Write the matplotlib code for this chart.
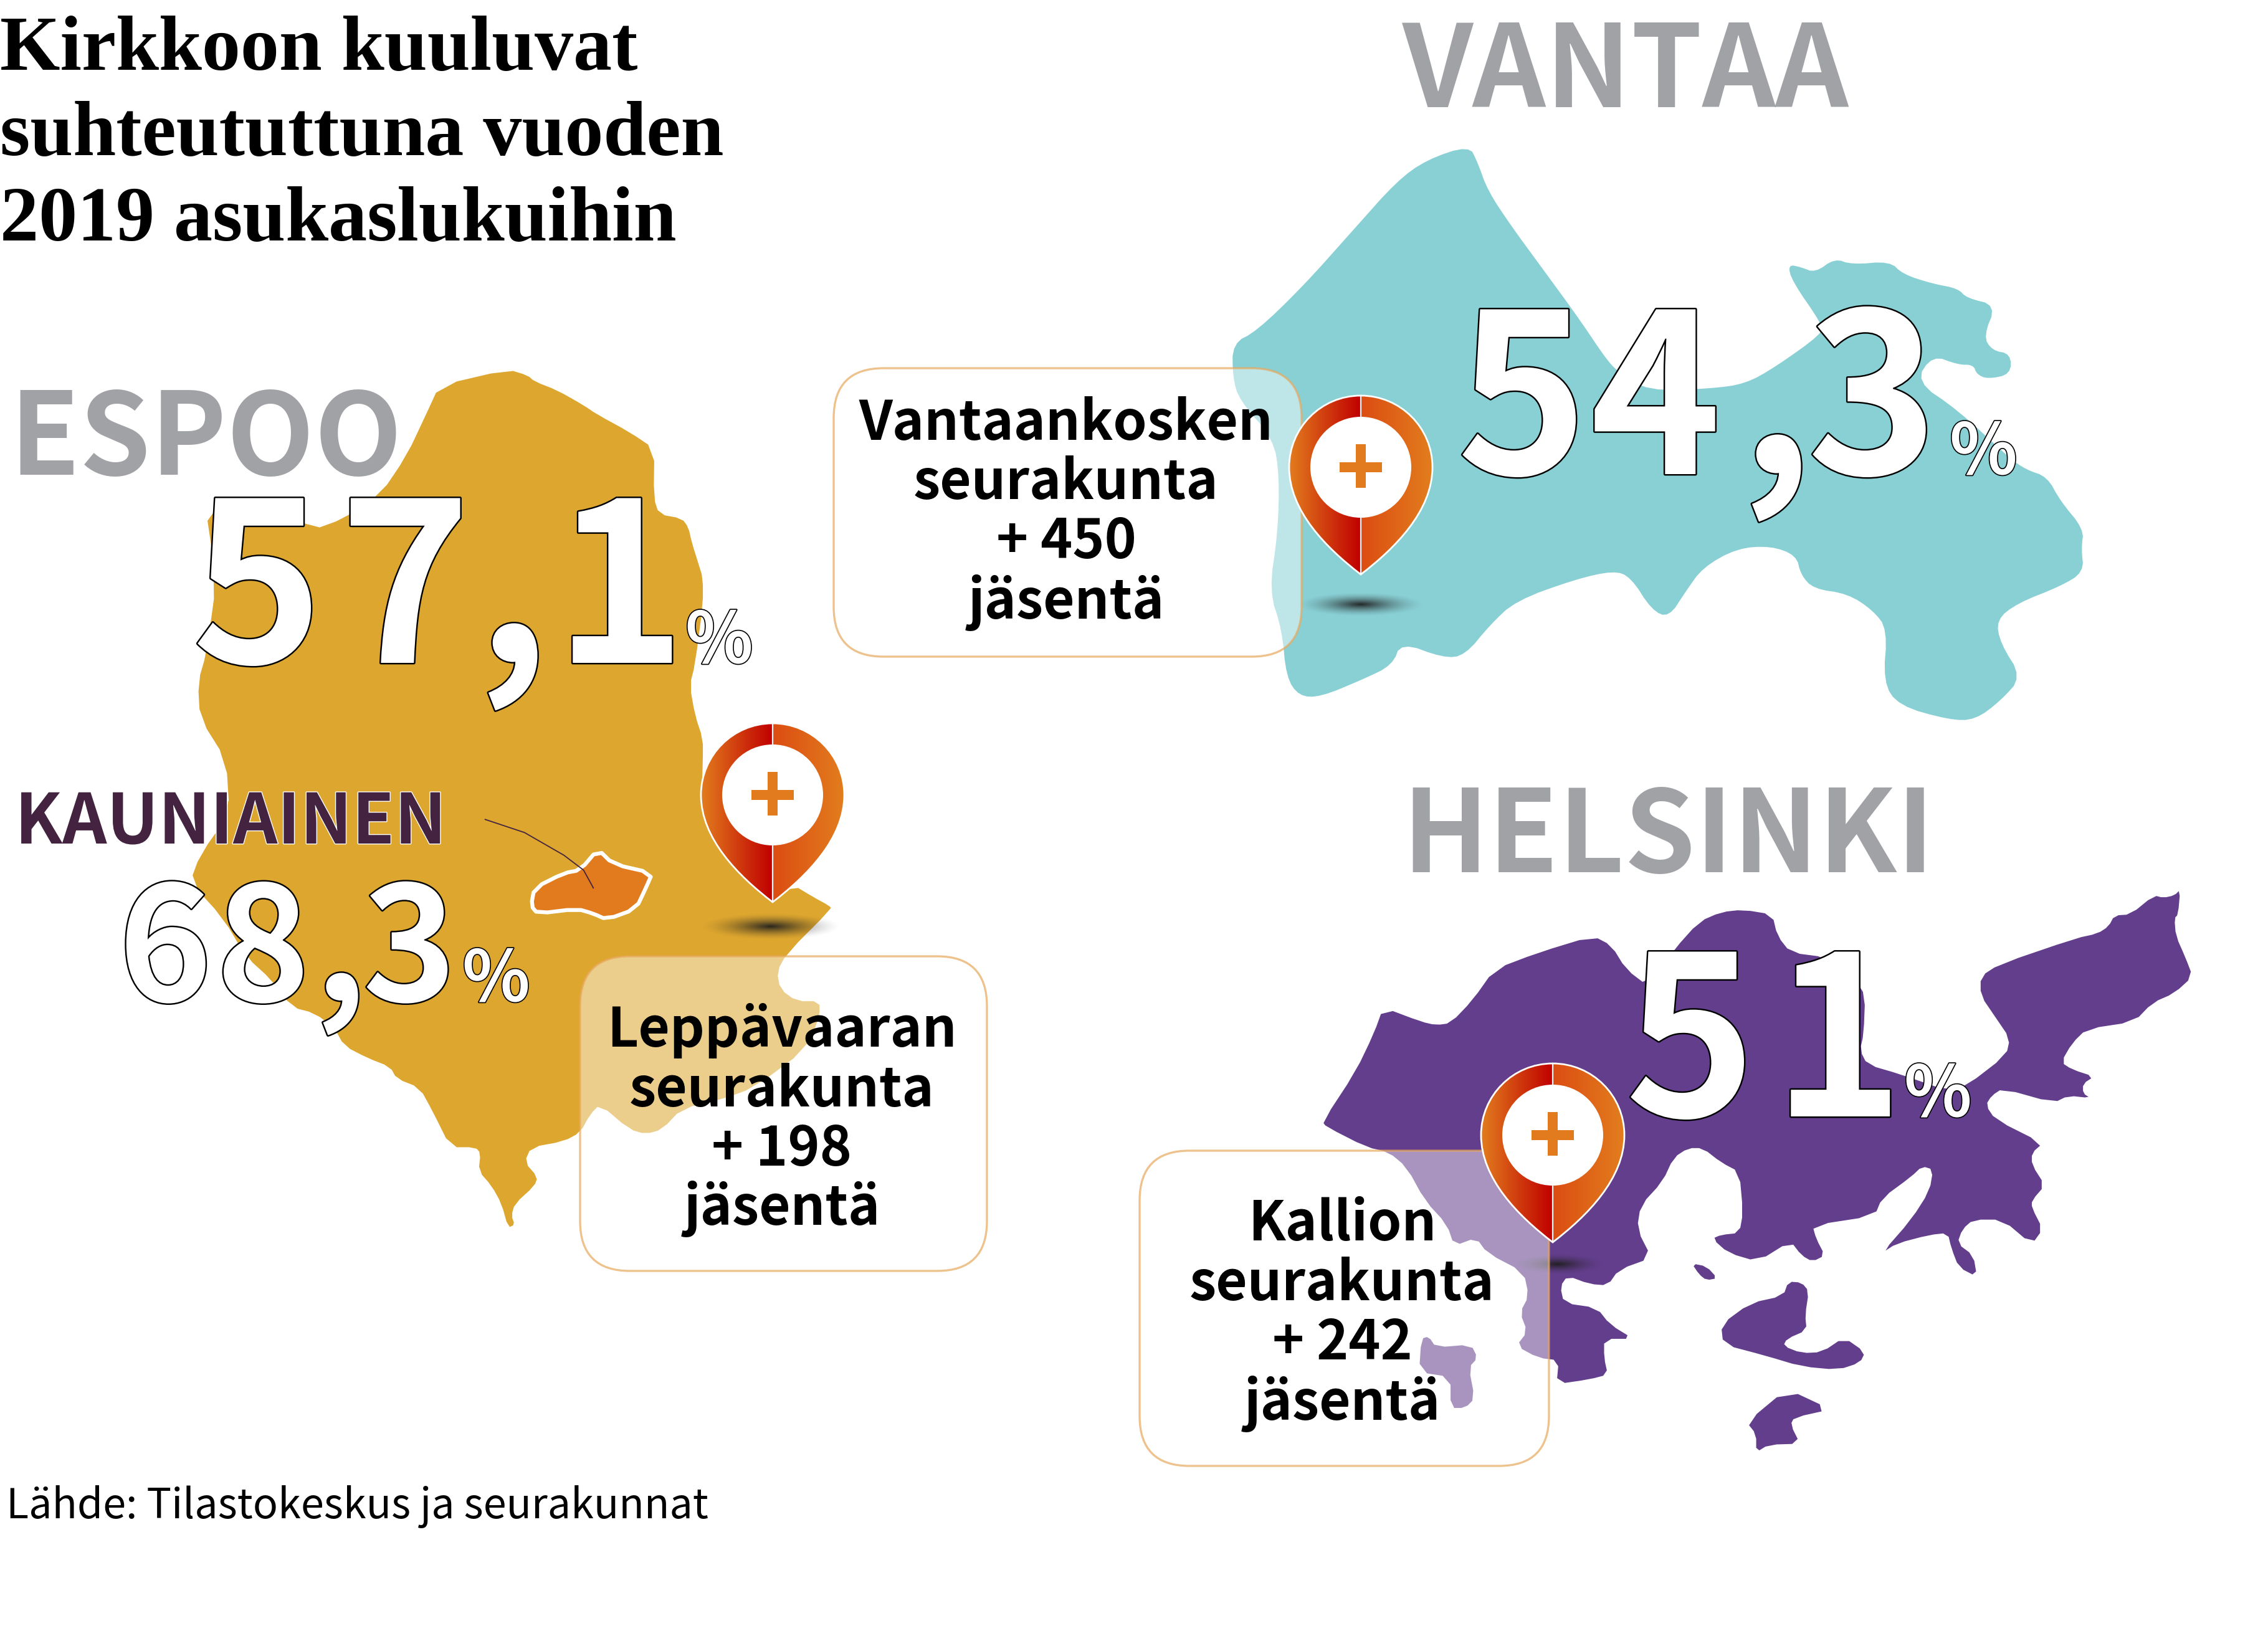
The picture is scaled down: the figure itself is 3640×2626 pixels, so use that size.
import numpy as np
import matplotlib
matplotlib.use("Agg")
import matplotlib.pyplot as plt
import matplotlib.patheffects as pe
from matplotlib.colors import to_rgb
from matplotlib.patches import Polygon, FancyBboxPatch, PathPatch, Circle, Rectangle
from matplotlib.path import Path

# arvot
title_lines = ["Kirkkoon kuuluvat", "suhteututtuna vuoden", "2019 asukaslukuihin"]
city_names = ["ESPOO", "VANTAA", "HELSINKI"]
city_shares = ["57,1", "54,3", "51"]
kauniainen_name = "KAUNIAINEN"
kauniainen_share = "68,3"
parish_names = ["Leppävaaran", "Vantaankosken", "Kallion"]
parish_members = [198, 450, 242]
source_text = "Lähde: Tilastokeskus ja seurakunnat"

# kartat, pikselit zoomatuista kuvista
espoo_outline = [(670,72),(775,45),(805,55),(815,65),(850,80),(890,105),(910,120),(960,150),(998,178),(997,260),(1005,288),(1040,295),(1050,310),(1055,335),(1065,370),(1072,395),(1072,440),(1060,540),(1052,575),(1060,625),(1072,665),(1072,700),(1070,760),(1100,860),(1178,938),(1210,910),(1240,930),(1265,945),(1268,950),(1200,1025),(1185,1055),(1190,1085),(1215,1105),(1250,1105),(1250,1130),(1230,1185),(1150,1250),(1100,1270),(1040,1285),(1010,1320),(985,1328),(960,1320),(915,1278),(900,1295),(885,1325),(860,1340),(810,1350),(800,1375),(820,1400),(815,1415),(785,1445),(780,1465),(785,1480),(775,1485),(765,1445),(750,1415),(730,1390),(733,1360),(725,1350),(687,1350),(660,1290),(640,1250),(605,1235),(595,1215),(560,1200),(525,1180),(510,1150),(480,1125),(445,1115),(415,1070),(375,1030),(340,965),(290,905),(305,860),(350,790),(345,700),(305,630),(302,570),(315,520),(330,400),(312,265),(420,265),(475,315),(525,295),(580,255),(620,190),(650,120)]
kauniainen_outline = [(815,915),(860,890),(885,885),(912,850),(935,875),(995,890),(985,915),(970,950),(925,968),(905,958),(880,950),(820,958),(810,945)]
kauniainen_line = [(740,800),(800,822),(860,860),(890,885),(905,915)]
vantaa_outline = [(775,305),(785,340),(797,400),(825,475),(860,560),(905,670),(935,750),(950,780),(985,820),(1060,815),(1100,805),(1135,770),(1190,700),(1190,680),(1155,590),(1150,555),(1165,560),(1182,572),(1205,542),(1225,555),(1270,548),(1285,575),(1320,595),(1350,605),(1360,625),(1395,640),(1380,705),(1390,735),(1412,742),(1412,785),(1385,795),(1372,785),(1368,765),(1350,765),(1320,745),(1300,800),(1350,860),(1410,960),(1430,985),(1455,1000),(1470,1050),(1498,1110),(1495,1150),(1498,1200),(1470,1230),(1420,1265),(1395,1300),(1400,1350),(1425,1420),(1400,1470),(1370,1510),(1340,1510),(1280,1480),(1262,1430),(1267,1320),(1250,1280),(1220,1245),(1180,1235),(1165,1205),(1160,1165),(1130,1145),(1090,1150),(1050,1190),(1030,1240),(1010,1295),(990,1280),(965,1210),(945,1197),(900,1215),(830,1260),(800,1310),(770,1375),(745,1380),(695,1347),(685,1395),(650,1425),(600,1462),(575,1460),(560,1420),(555,1320),(540,1240),(550,1120),(552,1000),(545,920),(505,840),(497,790),(497,720),(525,695),(580,600),(640,480),(690,380),(725,335)]
helsinki_outline = [(358,545),(410,575),(430,582),(450,578),(480,530),(510,465),(570,430),(645,395),(670,415),(690,465),(720,500),(755,425),(790,365),(820,345),(850,340),(890,350),(897,395),(915,430),(965,440),(1005,490),(1017,520),(1015,600),(1010,635),(1020,665),(1065,685),(1130,720),(1155,710),(1210,645),(1215,610),(1195,565),(1175,520),(1175,480),(1200,455),(1305,400),(1335,390),(1350,375),(1358,352),(1380,350),(1412,310),(1425,315),(1440,310),(1448,298),(1445,350),(1440,358),(1442,395),(1455,440),(1465,480),(1440,515),(1410,535),(1385,575),(1320,590),(1300,620),(1285,660),(1300,675),(1330,690),(1315,705),(1315,725),(1325,735),(1295,730),(1275,745),(1205,715),(1190,730),(1182,750),(1195,780),(1260,830),(1245,850),(1245,875),(1263,918),(1245,950),(1245,965),(1260,1010),(1245,1042),(1205,990),(1165,990),(1150,1010),(1143,1040),(1165,1065),(1170,1110),(1145,1090),(1135,1050),(1130,1018),(1105,1022),(1060,1040),(1040,1060),(1080,990),(1105,930),(1110,885),(1095,878),(1080,900),(1040,945),(1030,982),(945,1002),(950,1030),(962,1065),(945,1078),(930,1065),(915,1035),(870,1078),(830,1060),(808,1030),(820,1022),(845,1018),(850,975),(845,890),(820,870),(795,840),(775,840),(755,860),(740,910),(710,960),(705,1010),(725,1070),(680,1095),(665,1128),(640,1125),(610,1108),(600,1130),(605,1165),(650,1175),(668,1210),(700,1240),(660,1240),(660,1280),(665,1315),(640,1325),(595,1335),(598,1285),(570,1280),(540,1255),(555,1225),(545,1185),(557,1150),(550,1100),(500,1060),(485,1028),(455,1045),(445,1000),(415,950),(390,880),(365,848),(335,838),(280,795),(275,785),(320,680),(345,600)]
helsinki_islands = [
    [(780,1082),(800,1088),(815,1113),(800,1117),(790,1105)],
    [(820,1210),(860,1165),(905,1150),(912,1120),(930,1122),(940,1140),(935,1190),(937,1222),(910,1240),(905,1255),(930,1270),(958,1268),(988,1237),(1017,1268),(1010,1290),(980,1305),(930,1298),(880,1275),(823,1252)],
    [(910,1345),(970,1388),(920,1405),(915,1420),(928,1460),(885,1462),(868,1478),(868,1440),(855,1415)],
    [(410,1240),(420,1235),(430,1258),(478,1252),(487,1280),(475,1300),(483,1365),(470,1385),(450,1385),(450,1320),(407,1310)],
]

FONT = ["Noto Sans CJK SC", "DejaVu Sans"]
GREY = "#A1A2A5"
ESPOO_C = "#DDA62F"
VANTAA_C = "#89D0D5"
HELSINKI_C = "#633E8C"
ORANGE = "#E27B1E"
BOX_EDGE = (0.91, 0.66, 0.36, 0.7)


def px(points, x0, y0, sx, sy):
    # zoomikuvan koordinaatit -> kuvan pikselit
    a = np.array(points, dtype=float)
    return np.column_stack([a[:, 0] / sx + x0, a[:, 1] / sy + y0])


def z1(points):
    return px(points, 0, 550, 1568 / 1650, 1568 / 1500)


def z2(points):
    return px(points, 1300, 0, 1568 / 2140, 1568 / 1200)


def z3(points):
    return px(points, 1800, 1200, 1568 / 1840, 1568 / 1200)


def smooth(points, n=2):
    a = np.array(points, dtype=float)
    for _ in range(n):
        b = np.roll(a, -1, axis=0)
        a = np.column_stack([0.75 * a + 0.25 * b, 0.25 * a + 0.75 * b]).reshape(-1, 2)
    return a


fig = plt.figure(figsize=(36.4, 26.26), dpi=100, facecolor="white")
ax = fig.add_axes([0, 0, 1, 1])
ax.set_xlim(0, 3640)
ax.set_ylim(2626, 0)
ax.axis("off")


def big_text(x, y, s, size, lw=3.5):
    t = ax.text(x, y, s, fontsize=size * 0.72, family=FONT, weight="bold", color="white",
                ha="left", va="baseline", zorder=5)
    t.set_path_effects([pe.withStroke(linewidth=lw, foreground="black")])
    return t


def share_text(share, xs, y, size):
    # numerot erikseen, alkuperäisessä on väljä välistys
    for ch, x in zip(share, xs):
        big_text(x, y, ch, size)


def shadow(x, y, rx, ry):
    xx, yy = np.meshgrid(np.linspace(-1, 1, 200), np.linspace(-1, 1, 60))
    alpha = np.clip(1 - np.sqrt(xx ** 2 + yy ** 2), 0, 1) ** 1.6 * 0.95
    img = np.zeros((60, 200, 4))
    img[..., :3] = 0.12
    img[..., 3] = alpha
    ax.imshow(img, extent=(x - rx, x + rx, y + ry, y - ry), aspect="auto", zorder=3)


def pin(x, y):
    r = 115
    tip = 172
    k = 0.5523 * r
    verts = [(0, tip), (-55, 130), (-r, 70), (-r, 0),
             (-r, -k), (-k, -r), (0, -r),
             (k, -r), (r, -k), (r, 0),
             (r, 70), (55, 130), (0, tip), (0, tip)]
    codes = [Path.MOVETO] + [Path.CURVE4] * 12 + [Path.CLOSEPOLY]
    path = Path(np.array(verts) + (x, y), codes)
    c = np.linspace(0, 1, 100)[None, :, None]
    left = np.array(to_rgb("#E27C1E")) * (1 - c) + np.array(to_rgb("#C00000")) * c
    right = np.array(to_rgb("#DC4D12")) * (1 - c) + np.array(to_rgb("#E27D1E")) * c
    for img, ext in [(left, (x - r, x, y + tip, y - r)), (right, (x, x + r, y + tip, y - r))]:
        im = ax.imshow(img, extent=ext, aspect="auto", zorder=6)
        im.set_clip_path(path, transform=ax.transData)
    ax.add_patch(PathPatch(path, fc="none", ec="white", lw=2, zorder=6.1))
    ax.plot([x, x], [y - r, y + tip], color="white", lw=1.6, zorder=6.1)
    ax.add_patch(Circle((x, y), 81, fc="white", ec="none", zorder=6.2))
    ax.add_patch(Rectangle((x - 34, y - 8), 68, 16, fc=ORANGE, ec="none", zorder=6.3))
    ax.add_patch(Rectangle((x - 8, y - 37), 16, 70, fc=ORANGE, ec="none", zorder=6.3))


def info_box(x0, y0, x1, y1, cx, baselines, name, members):
    box = FancyBboxPatch((x0, y0), x1 - x0, y1 - y0, boxstyle="round,pad=0,rounding_size=80",
                         fc=(1, 1, 1, 0.45), ec=BOX_EDGE, lw=2.4, zorder=4)
    ax.add_patch(box)
    lines = [name, "seurakunta", "+ %d" % members, "jäsentä"]
    for line, yb in zip(lines, baselines):
        ax.text(cx, yb, line, fontsize=87 * 0.72, family=FONT, weight="bold", color="black",
                ha="center", va="baseline", zorder=7)


# kartat
ax.add_patch(Polygon(z1(smooth(espoo_outline, 1)), fc=ESPOO_C, ec="none", zorder=1))
ax.add_patch(Polygon(z2(smooth(vantaa_outline)), fc=VANTAA_C, ec="none", zorder=1))
ax.add_patch(Polygon(z3(smooth(helsinki_outline, 1)), fc=HELSINKI_C, ec="none", zorder=1))
for island in helsinki_islands:
    ax.add_patch(Polygon(z3(smooth(island, 1)), fc=HELSINKI_C, ec="none", zorder=1))
ax.add_patch(Polygon(z1(smooth(kauniainen_outline, 1)), fc=ORANGE, ec="white", lw=4.5, joinstyle="round", zorder=2))
kl = z1(kauniainen_line)
ax.plot(kl[:, 0], kl[:, 1], color="#43233F", lw=1.3, zorder=5)

# otsikko
for line, yb in zip(title_lines, [112, 249, 386]):
    ax.text(0, yb, line, fontsize=124 * 0.72, family="Liberation Serif", weight="bold",
            color="black", ha="left", va="baseline", zorder=8)

# kaupungit
for name, x, y in zip(city_names, [15, 2251, 2250], [762, 172, 1400]):
    ax.text(x, y, name, fontsize=183 * 0.72, family=FONT, weight="bold", color=GREY,
            ha="left", va="baseline", zorder=4.5)

# prosentit
share_xs = [[308, 545, 765, 890], [2338, 2552, 2793, 2900], [2608, 2845]]
for s, xs, y, px_x in zip(city_shares, share_xs, [1064, 761, 1792], [1100, 3129, 3056]):
    share_text(s, xs, y, 357)
    big_text(px_x, y, "%", 113, lw=2.4)

t = ax.text(24, 1354, kauniainen_name, fontsize=111 * 0.72, family=FONT, weight="bold",
            color="#43233F", ha="left", va="baseline", zorder=5)
t.set_path_effects([pe.withStroke(linewidth=2, foreground="white")])
share_text(kauniainen_share, [190, 347, 505, 582], 1607, 255)
big_text(742, 1607, "%", 113, lw=2.4)

# laatikot ja neulat
shadow(1237, 1487, 115, 22)
shadow(2184, 970, 105, 20)
shadow(2500, 2029, 75, 17)

info_box(931, 1535, 1584, 2040, 1255, [1680, 1776, 1871, 1966], parish_names[0], parish_members[0])
info_box(1338, 591, 2089, 1054, 1711, [706, 801, 896, 993], parish_names[1], parish_members[1])
info_box(1829, 1847, 2486, 2353, 2154, [1991, 2087, 2182, 2279], parish_names[2], parish_members[2])

pin(1240, 1276)
pin(2184, 750)
pin(2492, 1822)

ax.set_xlim(0, 3640)
ax.set_ylim(2626, 0)

ax.text(10, 2437, source_text, fontsize=66.5 * 0.72, family=FONT, color="black",
        ha="left", va="baseline", zorder=8)

fig.savefig("out.png", dpi=100, facecolor="white")
